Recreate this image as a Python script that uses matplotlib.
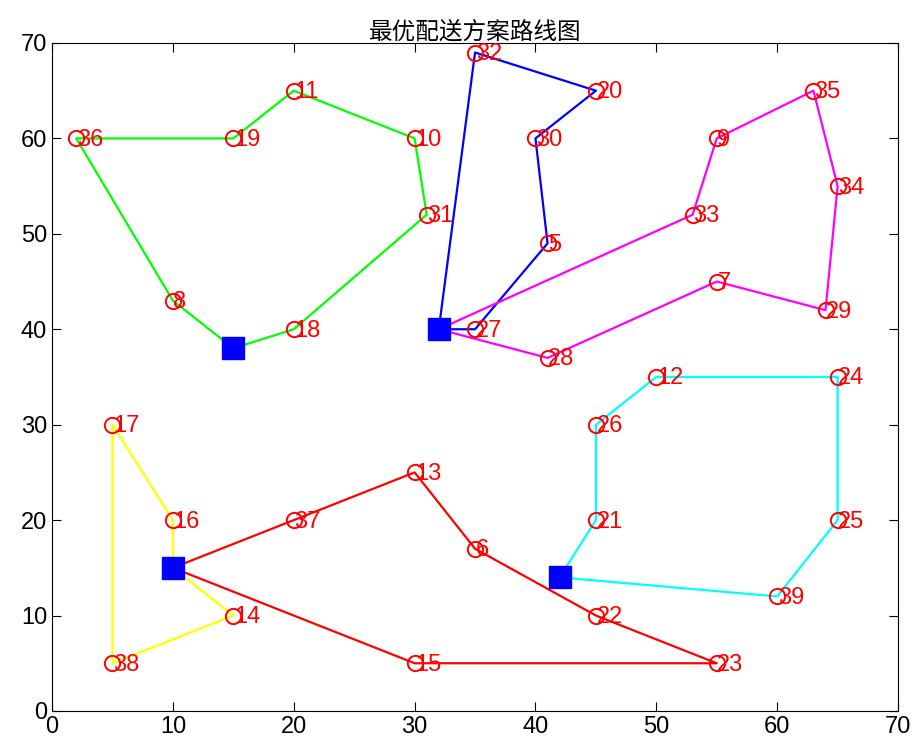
import numpy as np
import matplotlib.pyplot as plt

plt.rcParams['font.family'] = ['Liberation Sans', 'DejaVu Sans']

# customer points: id -> (x, y)
ids = [5, 6, 7, 8, 9, 10, 11, 12, 13, 14, 15, 16, 17, 18, 19, 20, 21, 22, 23, 24, 25,
       26, 27, 28, 29, 30, 31, 32, 33, 34, 35, 36, 37, 38, 39]
xs = [41, 35, 55, 10, 55, 30, 20, 50, 30, 15, 30, 10, 5, 20, 15, 45, 45, 45, 55, 65, 65,
      45, 35, 41, 64, 40, 31, 35, 53, 65, 63, 2, 20, 5, 60]
ys = [49, 17, 45, 43, 60, 60, 65, 35, 25, 10, 5, 20, 30, 40, 60, 65, 20, 10, 5, 35, 20,
      30, 40, 37, 42, 60, 52, 69, 52, 55, 65, 60, 20, 5, 12]
pts = dict(zip(ids, zip(xs, ys)))

# depots
depot_x = [15, 32, 10, 42]
depot_y = [38, 40, 15, 14]

# routes: (depot index, customer order, colour)
routes = [
    (0, [18, 31, 10, 11, 19, 36, 8], '#00ff00'),
    (1, [27, 5, 30, 20, 32], '#0000ff'),
    (1, [33, 9, 35, 34, 29, 7, 28], '#ff00ff'),
    (3, [21, 26, 12, 24, 25, 39], '#00ffff'),
    (2, [16, 17, 38, 14], '#ffff00'),
    (2, [37, 13, 6, 22, 23, 15], '#ff0000'),
]

fig = plt.figure(figsize=(9.16, 7.51), dpi=100)
ax = fig.add_axes([0.0568, 0.0533, 0.9236, 0.8895])

for d, seq, col in routes:
    rx = [depot_x[d]] + [pts[i][0] for i in seq] + [depot_x[d]]
    ry = [depot_y[d]] + [pts[i][1] for i in seq] + [depot_y[d]]
    ax.plot(rx, ry, color=col, lw=1.6, zorder=2)

ax.plot(xs, ys, 'o', mfc='none', mec='red', ms=11, mew=1.4, zorder=3)
for i, x, y in zip(ids, xs, ys):
    ax.text(x + 0.05, y - 0.15, str(i), color='red', fontsize=17, va='center', ha='left', zorder=4)

ax.plot(depot_x, depot_y, 's', color='blue', ms=16, zorder=5)

ax.set_xlim(0, 70)
ax.set_ylim(0, 70)
ax.set_xticks(range(0, 71, 10))
ax.set_yticks(range(0, 71, 10))
ax.tick_params(direction='in', top=True, right=True, labelsize=17, length=6.5)
for s in ax.spines.values():
    s.set_linewidth(0.8)
ax.set_title('最优配送方案路线图', fontsize=17, family=['Noto Sans CJK SC', 'DejaVu Sans'], pad=3)

fig.savefig('out.png', dpi=100)
